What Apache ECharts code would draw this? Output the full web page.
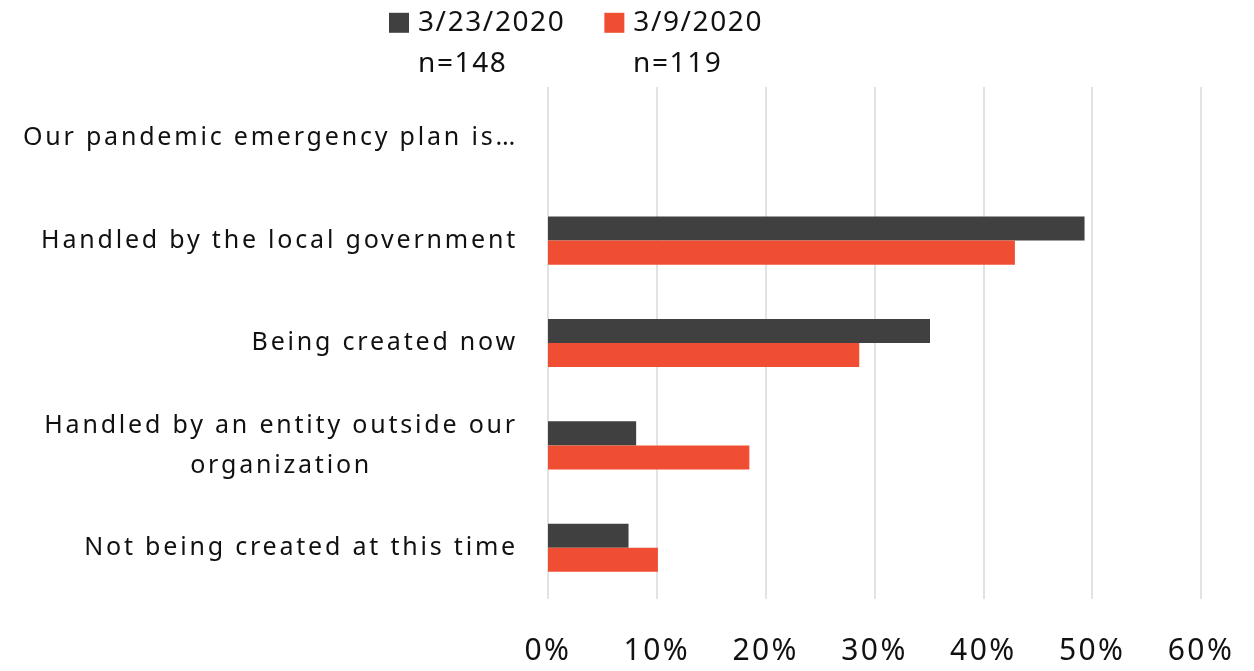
<!DOCTYPE html>
<html>
<head>
<meta charset="utf-8">
<script src="https://cdn.jsdelivr.net/npm/echarts@6/dist/echarts.min.js"></script>
<style>
  html, body { margin: 0; padding: 0; background: #ffffff; }
  #chart { width: 1254px; height: 671px; }
</style>
</head>
<body>
<div id="chart"></div>
<script>
// Survey responses: share of respondents per answer, two survey waves
const categories = [
  'Our pandemic emergency plan is…',
  'Handled by the local government',
  'Being created now',
  'Handled by an entity outside our\norganization',
  'Not being created at this time'
];
const seriesNames = ['3/23/2020', '3/9/2020'];
const sampleSizes = ['n=148', 'n=119'];
const wave0323 = [null, 49.3, 35.1, 8.1, 7.4];
const wave0309 = [null, 42.9, 28.6, 18.5, 10.1];
const xTicks = [0, 10, 20, 30, 40, 50, 60];

const FONT = 'Noto Sans';

// Open tracking for the chart's text: canvas letterSpacing picked by font size,
// applied both when text is measured (so layout stays aligned) and when drawn.
const TRACKING = { 25: 2.8, 28: 1.6, 30: 2.4 };
(function () {
  const proto = CanvasRenderingContext2D.prototype;
  if (!('letterSpacing' in proto)) return;
  function track(ctx) {
    const m = /(\d+(?:\.\d+)?)px/.exec(ctx.font || '');
    const size = m ? Math.round(parseFloat(m[1])) : 0;
    ctx.letterSpacing = (TRACKING[size] || 0) + 'px';
  }
  const fill = proto.fillText;
  proto.fillText = function () { track(this); return fill.apply(this, arguments); };
  const measure = proto.measureText;
  proto.measureText = function () { track(this); return measure.apply(this, arguments); };
})();

const chart = echarts.init(document.getElementById('chart'));

chart.setOption({
  animation: false,
  textStyle: { fontFamily: FONT },
  legend: {
    data: seriesNames,
    left: 389,
    top: 8,
    padding: 0,
    itemWidth: 20,
    itemHeight: 20,
    itemGap: 39,
    icon: 'rect',
    textStyle: { fontSize: 28, color: '#111', fontFamily: FONT, padding: [0, 0, 0, 4] }
  },
  graphic: [
    { type: 'text', left: 418, top: 49, style: { text: sampleSizes[0], fontSize: 28, fill: '#111', fontFamily: FONT } },
    { type: 'text', left: 633, top: 49, style: { text: sampleSizes[1], fontSize: 28, fill: '#111', fontFamily: FONT } }
  ],
  grid: { left: 548, right: 53, top: 87, bottom: 72, containLabel: false },
  xAxis: {
    type: 'value',
    min: xTicks[0],
    max: xTicks[xTicks.length - 1],
    interval: 10,
    axisLine: { show: false },
    axisTick: { show: false },
    splitLine: { show: true, lineStyle: { color: '#d9d9d9', width: 1.5 } },
    axisLabel: { formatter: '{value}%', fontSize: 30, color: '#111', margin: 36, fontFamily: FONT }
  },
  yAxis: {
    type: 'category',
    data: categories,
    inverse: true,
    axisLine: { show: false },
    axisTick: { show: false },
    axisLabel: {
      margin: 30,
      color: '#111',
      fontSize: 25,
      fontFamily: FONT,
      formatter: function (v) {
        return v.split('\n').map(function (l) { return '{c|' + l + '}'; }).join('\n');
      },
      rich: { c: { fontSize: 25, lineHeight: 40, align: 'center', color: '#111', fontFamily: FONT } }
    }
  },
  series: [
    {
      name: seriesNames[0],
      type: 'bar',
      data: wave0323,
      itemStyle: { color: '#404040' },
      barGap: '0%',
      barCategoryGap: '53%'
    },
    {
      name: seriesNames[1],
      type: 'bar',
      data: wave0309,
      itemStyle: { color: '#F04E32' },
      barGap: '0%',
      barCategoryGap: '53%'
    }
  ]
});
</script>
</body>
</html>
